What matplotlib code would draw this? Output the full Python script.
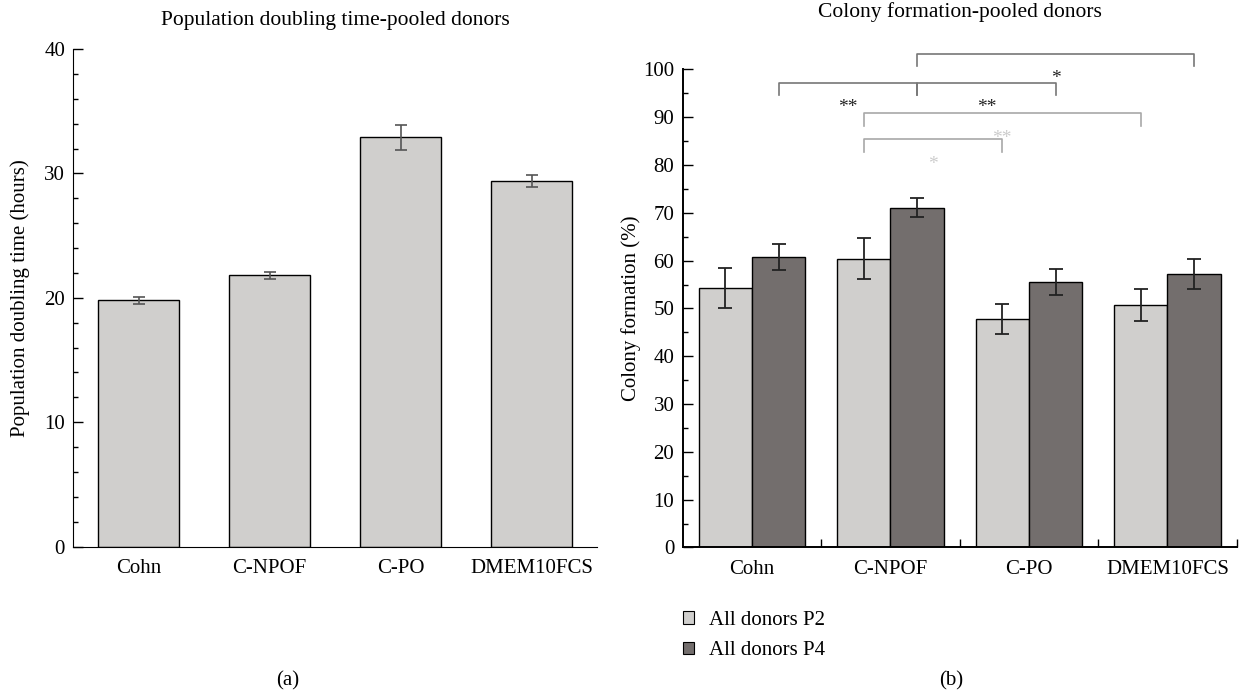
import numpy as np
import matplotlib
matplotlib.use("Agg")
import matplotlib.pyplot as plt
from matplotlib.patches import Patch
from matplotlib.ticker import MultipleLocator, FixedLocator

plt.rcParams["font.family"] = ["Liberation Serif", "DejaVu Serif"]

# --------------------------------------------------------------------------- #
# Data
# --------------------------------------------------------------------------- #
categories = ["Cohn", "C-NPOF", "C-PO", "DMEM10FCS"]

# (a) population doubling time, hours
pdt_mean = [19.8, 21.8, 32.9, 29.4]
pdt_err = [0.3, 0.3, 1.0, 0.5]

# (b) colony formation, %
series = ["All donors P2", "All donors P4"]
cf_p2 = [54.3, 60.4, 47.8, 50.7]
cf_p2_err = [4.2, 4.3, 3.1, 3.3]
cf_p4 = [60.7, 71.1, 55.6, 57.2]
cf_p4_err = [2.7, 2.0, 2.7, 3.1]

# significance brackets: (category, series index) pairs
sig_from = [("C-NPOF", 1), ("Cohn", 1), ("C-NPOF", 1), ("C-NPOF", 0), ("C-NPOF", 0)]
sig_to = [("DMEM10FCS", 1), ("C-NPOF", 1), ("C-PO", 1), ("DMEM10FCS", 0), ("C-PO", 0)]
sig_level = [103.2, 97.2, 97.2, 90.8, 85.4]
sig_text = ["*", "**", "**", "**", "*"]
sig_light = [False, False, False, True, True]

LIGHT = "#d0cfcd"
DARK = "#736e6d"
FS = 15

fig = plt.figure(figsize=(12.39, 6.94), dpi=100)


def style_axis(ax, major, minor):
    for s in ("top", "right"):
        ax.spines[s].set_visible(False)
    ax.yaxis.set_major_locator(MultipleLocator(major))
    ax.yaxis.set_minor_locator(MultipleLocator(minor))
    ax.tick_params(axis="y", which="major", direction="in", length=7, width=1,
                   pad=6, labelsize=FS)
    ax.tick_params(axis="y", which="minor", direction="in", length=3.5, width=1)


# --------------------------------------------------------------------------- #
# (a) Population doubling time
# --------------------------------------------------------------------------- #
ax1 = fig.add_axes([0.0592, 0.2123, 0.4227, 0.7171])
x = np.arange(len(categories))
ax1.bar(x, pdt_mean, width=0.62, color=LIGHT, edgecolor="black", linewidth=1,
        zorder=2)
ax1.errorbar(x, pdt_mean, yerr=pdt_err, fmt="none", ecolor="#555555",
             elinewidth=1.2, capsize=4, capthick=1.2, zorder=3)
ax1.set_xlim(-0.5, 3.5)
ax1.set_ylim(0, 40)
style_axis(ax1, 10, 2)
ax1.set_xticks(x)
ax1.set_xticklabels(categories)
ax1.tick_params(axis="x", length=0, pad=9, labelsize=FS)
ax1.set_ylabel("Population doubling time (hours)", fontsize=FS)
ax1.yaxis.set_label_coords(-0.083, 0.5)
ax1.set_title("Population doubling time-pooled donors", fontsize=FS + 0.5,
              pad=17)

# --------------------------------------------------------------------------- #
# (b) Colony formation
# --------------------------------------------------------------------------- #
ax2 = fig.add_axes([0.5510, 0.2111, 0.4471, 0.6890])
w = 0.385
offs = [-w / 2, w / 2]
ax2.bar(x + offs[0], cf_p2, width=w, color=LIGHT, edgecolor="black",
        linewidth=1, zorder=2, label=series[0])
ax2.bar(x + offs[1], cf_p4, width=w, color=DARK, edgecolor="black",
        linewidth=1, zorder=2, label=series[1])
ax2.errorbar(x + offs[0], cf_p2, yerr=cf_p2_err, fmt="none", ecolor="#222222",
             elinewidth=1.3, capsize=5, capthick=1.3, zorder=3)
ax2.errorbar(x + offs[1], cf_p4, yerr=cf_p4_err, fmt="none", ecolor="#222222",
             elinewidth=1.3, capsize=5, capthick=1.3, zorder=3)
ax2.set_xlim(-0.5, 3.5)
ax2.set_ylim(0, 100)
style_axis(ax2, 10, 5)
for s in ("left", "bottom"):
    ax2.spines[s].set_linewidth(1.4)
ax2.set_xticks(x)
ax2.set_xticklabels(categories)
ax2.xaxis.set_minor_locator(FixedLocator(list(x + 0.5)))
ax2.tick_params(axis="x", which="major", length=0, pad=9, labelsize=FS)
ax2.tick_params(axis="x", which="minor", direction="in", length=6, width=1)
ax2.set_ylabel("Colony formation (%)", fontsize=FS)
ax2.yaxis.set_label_coords(-0.076, 0.5)
ax2.set_title("Colony formation-pooled donors", fontsize=FS + 0.5, pad=38)

# significance brackets
leg = 2.6
for a, b, y, t, light in zip(sig_from, sig_to, sig_level, sig_text, sig_light):
    xa = categories.index(a[0]) + offs[a[1]]
    xb = categories.index(b[0]) + offs[b[1]]
    lc = "#a8a8a8" if light else "#777777"
    tc = "#cccccc" if light else "#222222"
    ax2.plot([xa, xa, xb, xb], [y - leg, y, y, y - leg], color=lc, lw=1.2,
             clip_on=False, zorder=4)
    ax2.text((xa + xb) / 2, y - 5.2, t, ha="center", va="center", color=tc,
             fontsize=14, clip_on=False)

handles = [Patch(facecolor=LIGHT, edgecolor="black", linewidth=0.8),
           Patch(facecolor=DARK, edgecolor="black", linewidth=0.8)]
fig.legend(handles, series, loc="upper left", bbox_to_anchor=(0.551, 0.12),
           frameon=False, fontsize=FS, handlelength=0.55, handleheight=0.55,
           handletextpad=0.7, labelspacing=0.55, borderpad=0, borderaxespad=0)

fig.text(0.2324, 0.0187, "(a)", ha="center", va="center", fontsize=FS)
fig.text(0.768, 0.0187, "(b)", ha="center", va="center", fontsize=FS)

fig.savefig("out.png", dpi=100)
